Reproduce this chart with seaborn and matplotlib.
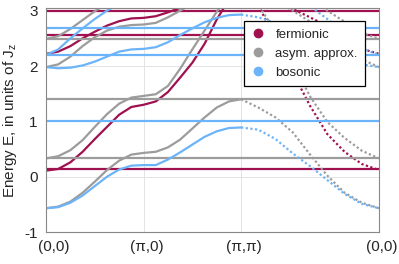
import numpy as np
import pandas as pd
import matplotlib
matplotlib.use('Agg')
import matplotlib.pyplot as plt
import matplotlib.transforms as mtransforms
from matplotlib.lines import Line2D
import seaborn as sns

# energies along (0,0)->(pi,0) [9 pts], (pi,0)->(pi,pi) [8 more], (pi,pi)->(0,0) [8 more]
ferm_mid = [0.11, 0.14, 0.26, 0.45, 0.68, 0.90, 1.12, 1.26, 1.30,
            1.36, 1.53, 1.79, 2.06, 2.40, 2.84, 3.20, 3.40,
            3.10, 2.48, 1.88, 1.28, 0.77, 0.45, 0.23, 0.12]
ferm_up = [2.22, 2.26, 2.36, 2.50, 2.62, 2.73, 2.81, 2.86, 2.87,
           2.90, 2.97, 3.05, 3.13, 3.20, 3.26, 3.29, 3.30,
           3.27, 3.17, 3.03, 2.88, 2.72, 2.50, 2.31, 2.22]
ferm_flat = [0.14, 2.56, 3.0]

asym_low = [-0.57, -0.54, -0.45, -0.29, -0.09, 0.12, 0.29, 0.40, 0.43,
            0.45, 0.53, 0.67, 0.87, 1.07, 1.25, 1.36, 1.40,
            1.25, 1.07, 0.80, 0.40, 0.02, -0.29, -0.47, -0.57]
asym_mid = [0.33, 0.37, 0.48, 0.66, 0.90, 1.13, 1.32, 1.43, 1.46,
            1.49, 1.64, 1.95, 2.30, 2.64, 2.98, 3.30, 3.55,
            3.10, 2.62, 2.05, 1.45, 0.99, 0.70, 0.47, 0.33]
asym_up = [1.98, 2.03, 2.17, 2.36, 2.52, 2.64, 2.71, 2.74, 2.75,
           2.78, 2.88, 3.00, 3.12, 3.22, 3.30, 3.34, 3.35,
           3.30, 3.18, 3.00, 2.80, 2.58, 2.33, 2.12, 1.98]
asym_top = [2.49, 2.54, 2.67, 2.83, 2.99, 3.13, 3.24, 3.30, 3.32,
            3.35, 3.42, 3.50, 3.60, 3.70, 3.78, 3.83, 3.85,
            3.80, 3.65, 3.45, 3.22, 3.00, 2.80, 2.60, 2.49]
asym_flat = [0.33, 1.40, 2.49]

bos_low = [-0.57, -0.55, -0.47, -0.34, -0.17, 0.00, 0.13, 0.20, 0.21,
           0.21, 0.31, 0.44, 0.58, 0.72, 0.82, 0.88, 0.89,
           0.85, 0.68, 0.42, 0.19, -0.06, -0.31, -0.49, -0.57]
bos_up = [1.98, 1.96, 1.97, 2.01, 2.08, 2.17, 2.26, 2.30, 2.31,
          2.34, 2.43, 2.56, 2.68, 2.79, 2.87, 2.92, 2.93,
          2.88, 2.78, 2.62, 2.45, 2.28, 2.13, 2.03, 1.98]
bos_steep = [2.20, 2.30, 2.50, 2.68, 2.85, 3.00, 3.12, 3.20, 3.22,
             3.25, 3.32, 3.42, 3.52, 3.60, 3.66, 3.70, 3.72,
             3.65, 3.50, 3.30, 3.08, 2.85, 2.60, 2.32, 2.20]
bos_flat = [1.00, 2.20, 2.68]

kinds = ['fermionic', 'asym. approx.', 'bosonic']
colors = ['#a0114f', '#9c9c9c', '#6cb4fa']
tick_labels = ['(0,0)', '(π,0)', '(π,π)', '(0,0)']

# path coordinate
seg = np.linspace(0, 1, 9)
kpath = np.concatenate([np.pi * seg, np.pi + np.pi * seg[1:],
                        2 * np.pi + np.pi * np.sqrt(2) * seg[1:]])
kmax = kpath[-1]

rows = []
curves = {'fermionic': [ferm_mid, ferm_up],
          'asym. approx.': [asym_low, asym_mid, asym_up, asym_top],
          'bosonic': [bos_low, bos_up, bos_steep]}
flats = {'fermionic': ferm_flat, 'asym. approx.': asym_flat, 'bosonic': bos_flat}
n = 0
for kind in kinds:
    for vals in curves[kind]:
        # first two segments solid, diagonal one sparser (dotted)
        for i, (k, e) in enumerate(zip(kpath, vals)):
            if i <= 16:
                rows.append((kind, n, 'main', k, e))
            if i >= 16:
                rows.append((kind, n + 1, 'diag', k, e))
        n += 2
    for e in flats[kind]:
        rows.append((kind, n, 'main', 0.0, e))
        rows.append((kind, n, 'main', kmax, e))
        n += 1
df = pd.DataFrame(rows, columns=['kind', 'band', 'part', 'k', 'E'])

sns.set_style('white')
plt.rcParams['font.family'] = ['Liberation Sans', 'DejaVu Sans']
plt.rcParams['axes.unicode_minus'] = False

fig = plt.figure(figsize=(3.99, 2.64), dpi=100)
ax = fig.add_axes([0.1153, 0.121, 0.8347, 0.849])

ax.grid(True, color='#e3e3e3', linewidth=0.7)
ax.set_axisbelow(True)

sns.lineplot(data=df, x='k', y='E', hue='kind', style='part', units='band',
             estimator=None, sort=False, hue_order=kinds, palette=colors,
             dashes={'main': '', 'diag': (1, 1.1)}, linewidth=1.6,
             legend=False, ax=ax)

ax.set_xlim(0, kmax)
ax.set_ylim(-1, 3.05)
ax.set_xticks([0, np.pi, 2 * np.pi, kmax])
ax.set_xticklabels(tick_labels)
ax.set_yticks([-1, 0, 1, 2, 3])
ax.tick_params(direction='in', length=3, color='#888888', labelsize=11, pad=6)
ax.set_xlabel('')
ax.set_ylabel('Energy E, in units of J$_\\mathregular{z}$', fontsize=11, labelpad=4)
for s in ax.spines.values():
    s.set_color('#888888')
    s.set_linewidth(0.8)

for i, lab in enumerate(ax.get_xticklabels()):
    dx = 8 if i == 0 else 3
    lab.set_transform(lab.get_transform() +
                      mtransforms.ScaledTranslation(dx / 100, 0, fig.dpi_scale_trans))

handles = [Line2D([], [], marker='o', ls='', color=c, markersize=6) for c in colors]
leg = ax.legend(handles, kinds, loc='upper right', bbox_to_anchor=(0.958, 0.94),
                fontsize=9.5, frameon=True, fancybox=False, framealpha=1,
                edgecolor='black', handlelength=1.0, handletextpad=0.8,
                borderpad=0.55, labelspacing=0.5, borderaxespad=0)
leg.get_frame().set_linewidth(0.9)

plt.savefig('out.png', dpi=100)
